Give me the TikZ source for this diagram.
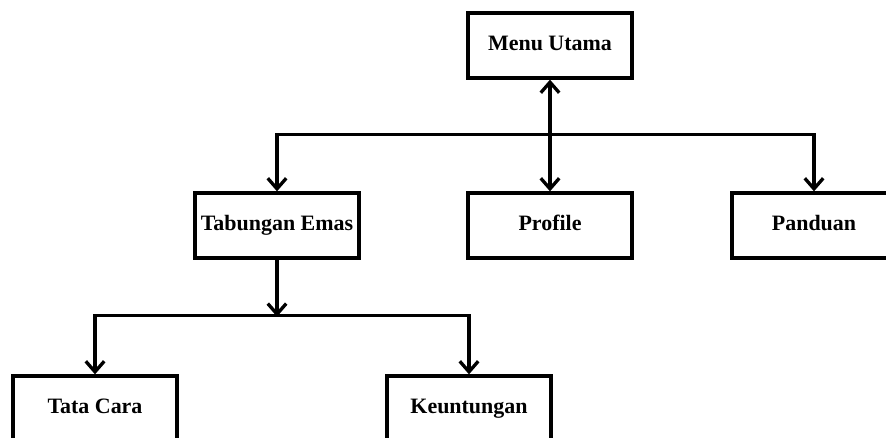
\documentclass[tikz,border=0pt]{standalone}
\usepackage{fontspec}
\setmainfont{Liberation Serif}
\usetikzlibrary{arrows.meta}

\begin{document}
\begin{tikzpicture}[x=0.02cm,y=-0.02cm,line width=1.9pt,>={Straight Barb[length=6pt,width=10.5pt]},
  menubox/.style={draw,minimum width=3.28cm,minimum height=1.3cm,text height=1.6ex,text depth=.4ex,font=\fontsize{12.5}{14}\selectfont\bfseries}]
  \clip (0,0) rectangle (886,438); \fill[white] (0,0) rectangle (886,438);
  \node[menubox] (menu) at (550,45.5) {Menu Utama};
  \node[menubox] (tabungan) at (277,225.5) {Tabungan Emas}; \node[menubox] (profile) at (550,225.5) {Profile}; \node[menubox] (panduan) at (814,225.5) {Panduan};
  \node[menubox] (tatacara) at (95,408.5) {Tata Cara}; \node[menubox] (untung) at (469,408.5) {Keuntungan};
  \draw[<->] (profile) -- (menu);
  \draw[<->] (tabungan.north) -- ++(0,-57) -| (panduan.north);
  \draw[->] (tabungan.south) -- ++(0,57);
  \draw[<->] (tatacara.north) -- ++(0,-59) -| (untung.north);
\end{tikzpicture}
\end{document}
